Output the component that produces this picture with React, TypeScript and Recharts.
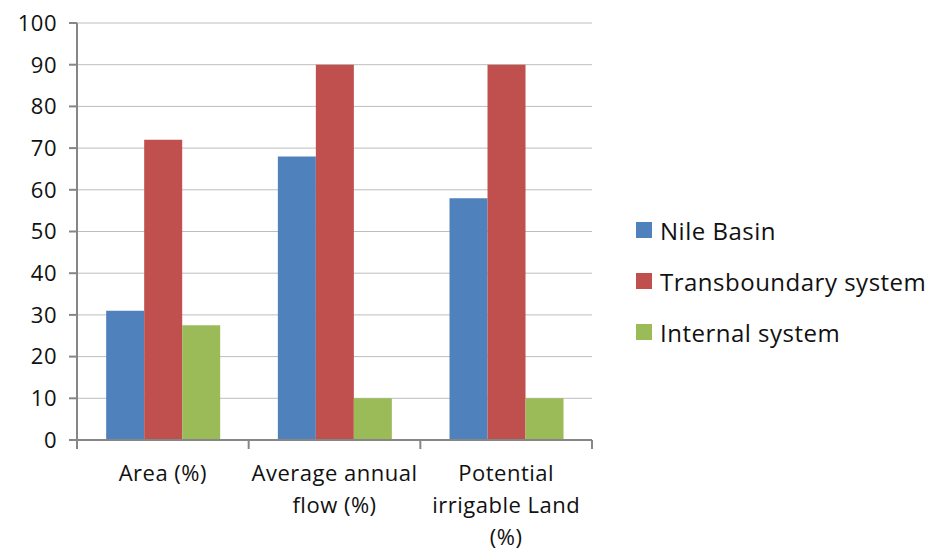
import React from 'react';
import { BarChart, Bar, XAxis, YAxis, CartesianGrid, Legend } from 'recharts';

const categories = ['Area (%)', 'Average annual\nflow (%)', 'Potential\nirrigable Land\n(%)'];
const nileBasin = [31, 68, 58];
const transboundary = [72, 90, 90];
const internal = [27.5, 10, 10];
const yTicks = [0, 10, 20, 30, 40, 50, 60, 70, 80, 90, 100];

const SERIES = [
  { key: 'nile', name: 'Nile Basin', color: '#4F81BD' },
  { key: 'trans', name: 'Transboundary system', color: '#C0504D' },
  { key: 'internal', name: 'Internal system', color: '#9BBB59' },
];

const FONT = '"Open Sans", Lato, sans-serif';
const AXIS_GREY = '#868686';

const data = categories.map((cat, i) => ({
  cat,
  nile: nileBasin[i],
  trans: transboundary[i],
  internal: internal[i],
}));

function CategoryTick(props: any) {
  const { x, y, payload, index } = props;
  const half = payload?.offset ?? 86;
  const lines = String(payload.value).split('\n');
  return (
    <g>
      <line x1={x - half} x2={x - half} y1={y - 8} y2={y + 1} stroke={AXIS_GREY} strokeWidth={2} />
      {index === categories.length - 1 && (
        <line x1={x + half} x2={x + half} y1={y - 8} y2={y + 1} stroke={AXIS_GREY} strokeWidth={2} />
      )}
      <text
        x={x}
        y={y + 33}
        textAnchor="middle"
        fontSize={22}
        letterSpacing={0.5}
        fontFamily={FONT}
        fill="#111"
      >
        {lines.map((l, i) => (
          <tspan key={i} x={x} dy={i === 0 ? 0 : 32}>{l}</tspan>
        ))}
      </text>
    </g>
  );
}

function LegendContent() {
  return (
    <div
      style={{
        fontFamily: FONT,
        fontSize: 24,
        letterSpacing: 0.5,
        color: '#111',
        paddingLeft: 44,
        paddingTop: 10,
      }}
    >
      {SERIES.map((s) => (
        <div key={s.key} style={{ display: 'flex', alignItems: 'center', height: 51 }}>
          <span style={{ width: 16, height: 16, background: s.color, marginRight: 8, display: 'inline-block' }} />
          <span>{s.name}</span>
        </div>
      ))}
    </div>
  );
}

export default function App() {
  return (
    <div style={{ position: 'absolute', left: 0, top: 0, width: 934, height: 552, background: '#fff' }}>
      <BarChart
        width={934}
        height={552}
        data={data}
        margin={{ top: 23, right: 0, bottom: 12, left: 0 }}
        barCategoryGap="17%"
        barGap={0}
      >
        <CartesianGrid vertical={false} stroke="#bdbdbd" />
        <XAxis
          dataKey="cat"
          height={100}
          axisLine={{ stroke: AXIS_GREY, strokeWidth: 2 }}
          tickLine={false}
          tick={<CategoryTick />}
          interval={0}
        />
        <YAxis
          width={77}
          domain={[0, 100]}
          ticks={yTicks}
          interval={0}
          tickSize={8}
          tickMargin={12}
          axisLine={{ stroke: AXIS_GREY, strokeWidth: 2 }}
          tickLine={{ stroke: AXIS_GREY, strokeWidth: 2 }}
          tick={{ fontSize: 22, fontFamily: FONT, fill: '#111', letterSpacing: 0.5 }}
        />
        <Legend
          layout="vertical"
          align="right"
          verticalAlign="middle"
          width={342}
          content={<LegendContent />}
          wrapperStyle={{ width: 342 }}
        />
        {SERIES.map((s) => (
          <Bar key={s.key} dataKey={s.key} name={s.name} fill={s.color} isAnimationActive={false} />
        ))}
      </BarChart>
    </div>
  );
}
